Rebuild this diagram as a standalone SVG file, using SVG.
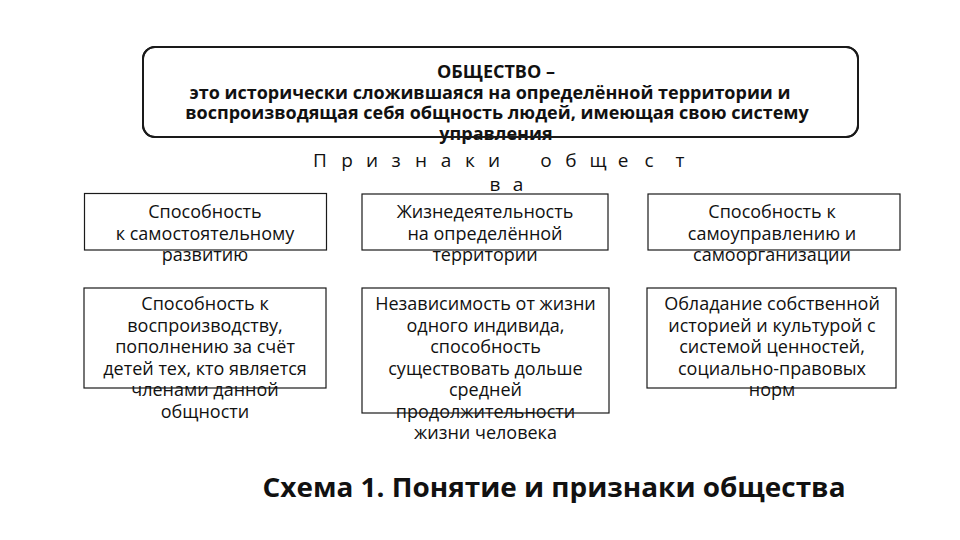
<svg xmlns="http://www.w3.org/2000/svg" width="960" height="540" viewBox="0 0 960 540">
<style>
.box{fill:#fff;stroke:#1a1a1a;stroke-width:1.2}
.t{font-family:"Open Sans","Noto Sans","DejaVu Sans",sans-serif;font-size:18px;fill:#111;text-anchor:middle}
.h{font-family:"Open Sans","Noto Sans","DejaVu Sans",sans-serif;font-size:18px;font-weight:700;fill:#111;text-anchor:middle}
.sp{font-family:"Open Sans","Noto Sans","DejaVu Sans",sans-serif;font-size:19px;fill:#111;text-anchor:middle}
.cap{font-family:"Open Sans","Noto Sans","DejaVu Sans",sans-serif;font-size:27.5px;font-weight:700;fill:#111;text-anchor:middle}
</style>
<rect width="960" height="540" fill="#fff"/>
<g id="connectors"/>
<g id="node-society">
<rect class="box" x="143" y="47" width="715" height="90" rx="12" style="stroke-width:2"/>
<text class="h"><tspan x="496" y="78">ОБЩЕСТВО –</tspan><tspan x="490" y="99">это исторически сложившаяся на определённой территории и</tspan><tspan x="497" y="119">воспроизводящая себя общность людей, имеющая свою систему</tspan><tspan x="496" y="140">управления</tspan></text>
<rect x="143" y="47" width="715" height="90" rx="12" fill="none" stroke="#1a1a1a" stroke-width="2"/>
</g>
<g id="title-signs">
<text class="sp" x="320 347 372 396 421 446 470 494 518 546 571 598 623 649 680" y="167">Признаки общест</text>
<text class="sp" x="495 518" y="191">ва</text>
</g>
<g id="node-1">
<rect class="box" x="84.5" y="193.5" width="242" height="56.5"/>
<text class="t"><tspan x="205" y="218">Способность</tspan><tspan x="205" y="239.5">к самостоятельному</tspan><tspan x="205" y="261">развитию</tspan></text>
</g>
<g id="node-2">
<rect class="box" x="362" y="194" width="246" height="56"/>
<text class="t"><tspan x="485" y="218">Жизнедеятельность</tspan><tspan x="485" y="239.5">на определённой</tspan><tspan x="485" y="261">территории</tspan></text>
</g>
<g id="node-3">
<rect class="box" x="648" y="194" width="252" height="56"/>
<text class="t"><tspan x="772" y="218">Способность к</tspan><tspan x="772" y="239.5">самоуправлению и</tspan><tspan x="772" y="261">самоорганизации</tspan></text>
</g>
<g id="node-4">
<rect class="box" x="84" y="288" width="242" height="100"/>
<text class="t"><tspan x="205" y="310">Способность к</tspan><tspan x="205" y="331.5">воспроизводству,</tspan><tspan x="205" y="353">пополнению за счёт</tspan><tspan x="205" y="374.5">детей тех, кто является</tspan><tspan x="205" y="396">членами данной</tspan><tspan x="205" y="417.5">общности</tspan></text>
</g>
<g id="node-5">
<rect class="box" x="362" y="288" width="247" height="125"/>
<text class="t"><tspan x="485.5" y="310">Независимость от жизни</tspan><tspan x="485.5" y="331.5">одного индивида,</tspan><tspan x="485.5" y="353">способность</tspan><tspan x="485.5" y="374.5">существовать дольше</tspan><tspan x="485.5" y="396">средней</tspan><tspan x="485.5" y="417.5">продолжительности</tspan><tspan x="485.5" y="439">жизни человека</tspan></text>
</g>
<g id="node-6">
<rect class="box" x="647" y="288" width="249" height="100"/>
<text class="t"><tspan x="772" y="310">Обладание собственной</tspan><tspan x="772" y="331.5">историей и культурой с</tspan><tspan x="772" y="353">системой ценностей,</tspan><tspan x="772" y="374.5">социально-правовых</tspan><tspan x="772" y="396">норм</tspan></text>
</g>
<g id="caption">
<text class="cap" x="554" y="497" textLength="583" lengthAdjust="spacingAndGlyphs">Схема 1. Понятие и признаки общества</text>
</g>
</svg>
